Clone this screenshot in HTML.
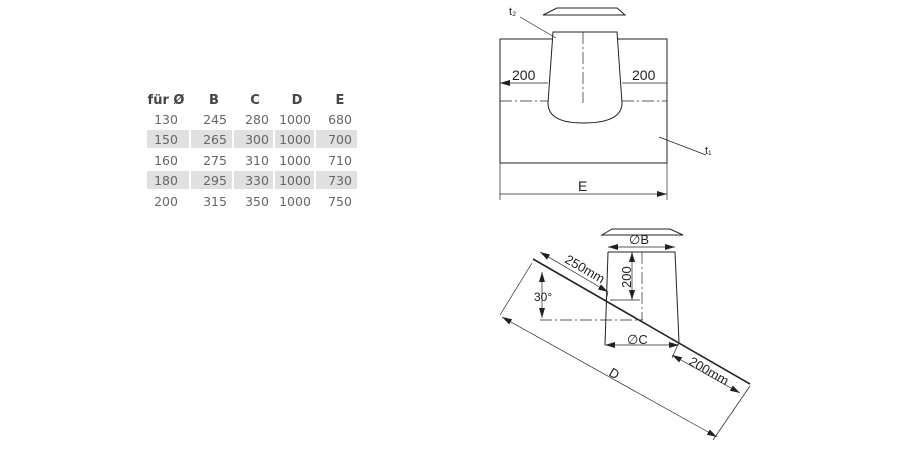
<!DOCTYPE html>
<html><head><style>
body{margin:0;background:#fff;}
svg{display:block}
.t{font-family:"DejaVu Sans","Liberation Sans",sans-serif;font-size:12.5px;fill:#666}
.h{font-family:"DejaVu Sans","Liberation Sans",sans-serif;font-size:13px;font-weight:bold;fill:#444}
.l{font-family:"Liberation Sans",sans-serif;font-size:13px;fill:#222}
</style></head><body>
<svg width="900" height="450" viewBox="0 0 900 450" xmlns="http://www.w3.org/2000/svg">
<defs><marker id="a" viewBox="0 0 10 6" refX="10" refY="3" markerWidth="10" markerHeight="6" orient="auto-start-reverse" markerUnits="userSpaceOnUse"><path d="M0,0L10,3L0,6z" fill="#222"/></marker></defs>
<g fill="#e0e0e0">
<rect x="147" y="130" width="42" height="18"/><rect x="191" y="130" width="41" height="18"/><rect x="234" y="130" width="39" height="18"/><rect x="275" y="130" width="39" height="18"/><rect x="316" y="130" width="41" height="18"/>
<rect x="147" y="171" width="42" height="18"/><rect x="191" y="171" width="41" height="18"/><rect x="234" y="171" width="39" height="18"/><rect x="275" y="171" width="39" height="18"/><rect x="316" y="171" width="41" height="18"/>
</g>
<g class="h" text-anchor="middle"><text x="166" y="104">für Ø</text><text x="214" y="104">B</text><text x="255" y="104">C</text><text x="297" y="104">D</text><text x="340" y="104">E</text></g>
<g class="t" text-anchor="middle">
<text x="166" y="124">130</text><text x="215" y="124">245</text><text x="257" y="124">280</text><text x="295" y="124">1000</text><text x="340" y="124">680</text>
<text x="166" y="144">150</text><text x="215" y="144">265</text><text x="257" y="144">300</text><text x="295" y="144">1000</text><text x="340" y="144">700</text>
<text x="166" y="165">160</text><text x="215" y="165">275</text><text x="257" y="165">310</text><text x="295" y="165">1000</text><text x="340" y="165">710</text>
<text x="166" y="185">180</text><text x="215" y="185">295</text><text x="257" y="185">330</text><text x="295" y="185">1000</text><text x="340" y="185">730</text>
<text x="166" y="206">200</text><text x="215" y="206">315</text><text x="257" y="206">350</text><text x="295" y="206">1000</text><text x="340" y="206">750</text>
</g>
<g stroke="#222" fill="none" stroke-width="1">
<rect x="500" y="39" width="167" height="124" fill="#fff"/>
<path d="M557,8L617,8L625,15L543,15z" fill="#fff"/>
<path d="M553,32L617,32L622,103Q622,123 583,123Q548,123 548,103z" fill="#fff"/>
<path d="M583,32V103M500,101H548M622,101H667" stroke-dasharray="12,3,2,3" stroke-width="0.7"/>
<path d="M500,83H548M622,83H667M500,194H667" marker-start="url(#a)" marker-end="url(#a)" stroke-width="0.7"/>
<path d="M500,163V200M667,163V200M520,17L556,38M659,137L706,155" stroke-width="0.7"/>
</g>
<g class="l"><text x="512" y="80" font-size="14">200</text><text x="632" y="80" font-size="14">200</text><text x="578" y="191" font-size="14">E</text><text x="509" y="15" font-size="11">t₂</text><text x="705" y="154" font-size="11">t₁</text></g>
<g stroke="#222" fill="none" stroke-width="1">
<path d="M612,229L670,229L683,235L602,235z" fill="#fff"/>
<path d="M608,252L675,252L679,342M608,252L605,345"/>
<line x1="533" y1="259" x2="750" y2="384" stroke-width="1.6"/>
<path d="M642,252V320M540,320H643" stroke-dasharray="12,3,2,3" stroke-width="0.7"/>
<g stroke-width="0.7" marker-start="url(#a)" marker-end="url(#a)">
<path d="M608,247H675"/><path d="M632,252V300"/><path d="M540,252L608,292"/><path d="M542,272V318"/><path d="M605,345H679"/><path d="M672,355L740,393"/><path d="M502,317L717,437"/>
</g>
<path stroke-width="0.7" d="M610,300H640M532,263L500,315M750,386L713,440M608,292L606,300M679,342L672,358"/>
</g>
<g class="l">
<text x="629" y="244">∅B</text><text x="627" y="344">∅C</text><text x="534" y="301" font-size="12">30°</text>
<text transform="translate(631,288) rotate(-90)">200</text>
<text transform="translate(564,262) rotate(30)">250mm</text>
<text transform="translate(688,364) rotate(30)">200mm</text>
<text transform="translate(608,375) rotate(30)">D</text>
</g>
</svg>
</body></html>
